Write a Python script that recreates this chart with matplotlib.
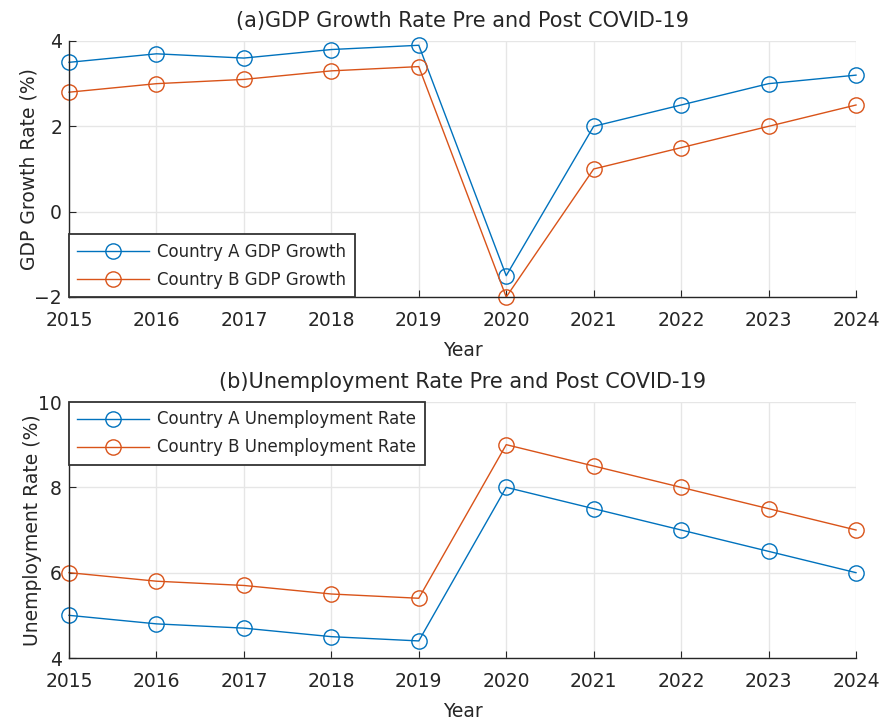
import matplotlib
matplotlib.use("Agg")
import matplotlib.pyplot as plt

years = [2015, 2016, 2017, 2018, 2019, 2020, 2021, 2022, 2023, 2024]
gdp_a = [3.5, 3.7, 3.6, 3.8, 3.9, -1.5, 2.0, 2.5, 3.0, 3.2]
gdp_b = [2.8, 3.0, 3.1, 3.3, 3.4, -2.0, 1.0, 1.5, 2.0, 2.5]
unemp_a = [5.0, 4.8, 4.7, 4.5, 4.4, 8.0, 7.5, 7.0, 6.5, 6.0]
unemp_b = [6.0, 5.8, 5.7, 5.5, 5.4, 9.0, 8.5, 8.0, 7.5, 7.0]

gdp_ticks = [-2, 0, 2, 4]
unemp_ticks = [4, 6, 8, 10]

BLUE = "#0072BD"
ORANGE = "#D95319"
AXC = "#262626"

plt.rcParams['font.family'] = ['DejaVu Sans']

fig = plt.figure(figsize=(8.84, 7.22), dpi=100)
W, H = 884, 722

def make_ax(left, top, right, bottom):
    return fig.add_axes([left / W, 1 - bottom / H, (right - left) / W, (bottom - top) / H])

ax1 = make_ax(69, 41, 856, 297)
ax2 = make_ax(69, 402, 856, 658)

def style(ax, yticks, title, ylabel):
    ax.set_xlim(years[0], years[-1])
    ax.set_ylim(yticks[0], yticks[-1])
    ax.set_xticks(years)
    ax.set_yticks(yticks)
    ax.grid(True, color="#e6e6e6", linewidth=1)
    ax.set_axisbelow(True)
    for s in ["top", "right"]:
        ax.spines[s].set_visible(False)
    for s in ["left", "bottom"]:
        ax.spines[s].set_color(AXC)
        ax.spines[s].set_linewidth(1)
    ax.tick_params(direction="in", length=5, colors=AXC, labelsize=13.5, labelcolor=AXC)
    ax.tick_params(axis="x", pad=10)
    ax.tick_params(axis="y", pad=5)
    ax.set_title(title, fontsize=15, color=AXC, pad=10)
    ax.set_xlabel("Year", fontsize=13.5, color=AXC, labelpad=8)
    ax.set_ylabel(ylabel, fontsize=13.5, color=AXC, labelpad=-3)

kw = dict(marker="o", markersize=11, markerfacecolor="none", linewidth=1, markeredgewidth=1, clip_on=False)
ax1.plot(years, gdp_a, color=BLUE, label="Country A GDP Growth", **kw)
ax1.plot(years, gdp_b, color=ORANGE, label="Country B GDP Growth", **kw)
style(ax1, gdp_ticks, "(a)GDP Growth Rate Pre and Post COVID-19", "GDP Growth Rate (%)")

ax2.plot(years, unemp_a, color=BLUE, label="Country A Unemployment Rate", **kw)
ax2.plot(years, unemp_b, color=ORANGE, label="Country B Unemployment Rate", **kw)
style(ax2, unemp_ticks, "(b)Unemployment Rate Pre and Post COVID-19", "Unemployment Rate (%)")

for ax, loc in [(ax1, "lower left"), (ax2, "upper left")]:
    leg = ax.legend(loc=loc, fontsize=12, frameon=True, fancybox=False, borderaxespad=0,
                    handlelength=4.3, borderpad=0.5, labelspacing=0.6, handletextpad=0.5)
    leg.get_frame().set_edgecolor("#333333")
    leg.get_frame().set_linewidth(1.3)
    leg.get_frame().set_alpha(1)
    for t in leg.get_texts():
        t.set_color(AXC)

fig.savefig("out.png", dpi=100)
